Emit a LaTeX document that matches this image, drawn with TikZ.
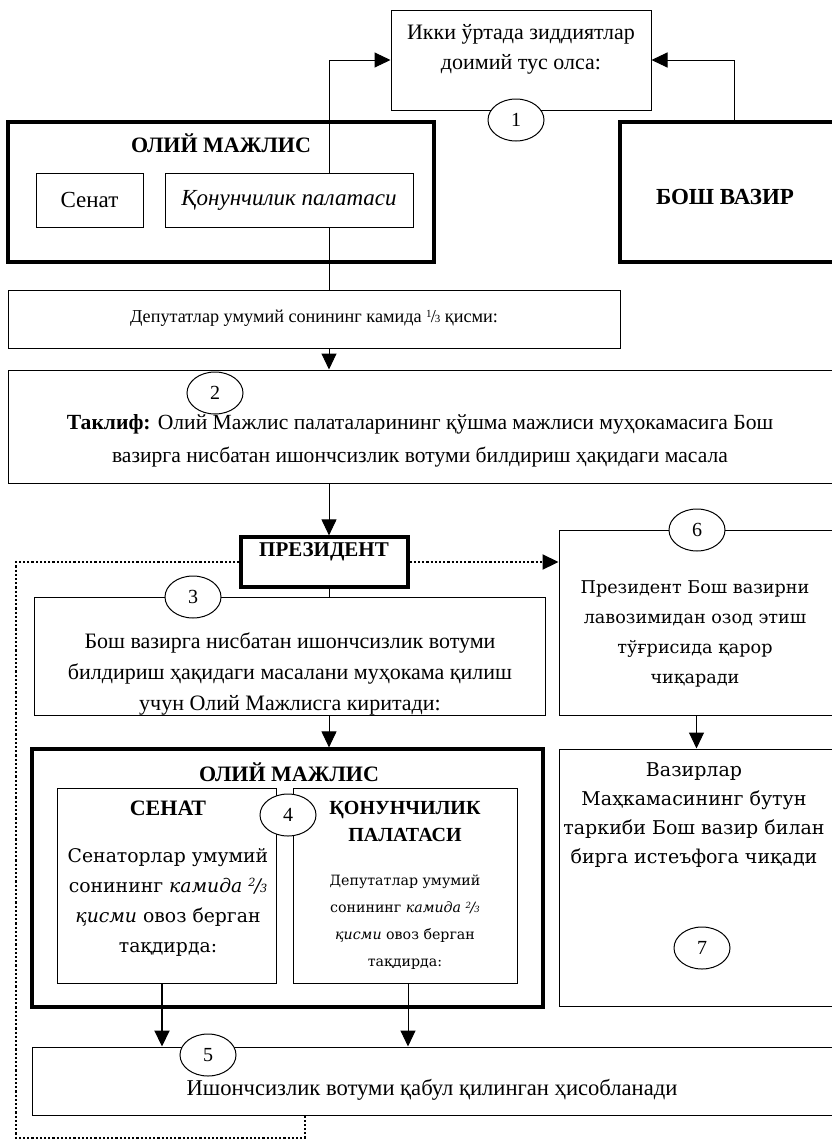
\documentclass[tikz,border=0pt]{standalone}
\usepackage{fontspec}
\usepackage{graphicx}
\setmainfont{Liberation Serif}
\newfontfamily\wideserif{DejaVu Serif}
\usetikzlibrary{arrows.meta,fit,shapes.geometric}
\newcommand{\vfrac}[2]{\raisebox{.55ex}{\scalebox{.6}{#1}}\kern-.05em/\kern-.05em\scalebox{.6}{#2}}
\begin{document}
\begin{tikzpicture}[x=0.5pt,y=-0.5pt,
  box/.style = {draw,line width=0.5pt,inner sep=0pt,fill=white},
  heavybox/.style = {draw,line width=1.6pt,inner sep=0pt},
  num/.style = {draw,ellipse,fill=white,line width=0.5pt,minimum width=28pt,minimum height=21pt,inner sep=0pt,font=\fontsize{10}{12}\selectfont},
  txt/.style = {align=center,inner sep=0pt,font=\fontsize{11}{15}\selectfont},
  heading/.style = {align=center,inner sep=0pt,font=\fontsize{11}{14}\selectfont\bfseries},
  widetxt/.style = {align=center,inner sep=0pt,font=\wideserif\fontsize{8.8}{15}\selectfont},
  arrow/.style = {line width=0.5pt,-{Triangle[length=8pt,width=7.5pt]}},
  dotarrow/.style = {line width=1.1pt,densely dotted,-{Triangle[length=8pt,width=7.5pt]}},
  dotline/.style = {line width=1.1pt,densely dotted}]
\useasboundingbox (0,0) rectangle (831,1140);
\coordinate (spine) at (329,0);
\coordinate (boshup) at (734,0);
\coordinate (senatdown) at (162,0);
\coordinate (qonundown) at (408,0);
\coordinate (loopx) at (305,0);
\coordinate (loopcorner) at (16,1138);

\node[box,fit={(391,10) (651,110)}] (clash) {};
\node[txt] (clashtxt) at (521,49) {Икки ўртада зиддиятлар\\доимий тус олса:};
\node[num] (n1) at (516,120) {1};

\node[heavybox,fit={(8,122) (434,262)}] (oliy) {};
\node[heading] (oliytitle) at (221,143) {ОЛИЙ МАЖЛИС};
\node[box,fit={(8,290) (620,348)}] (quota) {};
\node[txt,font=\fontsize{9.1}{12}\selectfont] (quotatxt) at (314,318) {Депутатлар умумий сонининг камида \vfrac{1}{3} қисми:};
\draw[arrow] (quota.north -| spine) |- (clash.west);
\node[box,fit={(36,173) (143,227)}] (senat) {};
\node[txt,font=\fontsize{11.5}{14}\selectfont] (senattxt) at (senat) {Сенат};
\node[box,fit={(165,173) (413,227)}] (qonun) {};
\node[txt,font=\fontsize{11.5}{14}\selectfont\itshape] (qonuntxt) at (qonun) {Қонунчилик палатаси};

\node[heavybox,fit={(620,122) (834,262)}] (bosh) {};
\node[heading,font=\fontsize{11.5}{14}\selectfont\bfseries] (boshtxt) at (725,197) {БОШ ВАЗИР};
\draw[arrow] (bosh.north -| boshup) |- (clash.east);

\node[box,fit={(8,370) (834,483)}] (offer) {};
\node[num] (n2) at (215,393) {2};
\node[txt,font=\fontsize{10.8}{16.5}\selectfont] (offertxt) at (420,441) {\textbf{Таклиф:} Олий Мажлис палаталарининг қўшма мажлиси муҳокамасига Бош\\вазирга нисбатан ишончсизлик вотуми билдириш ҳақидаги масала};
\draw[arrow] (quota.south -| spine) -- (offer.north -| spine);

\node[heavybox,fit={(241,537) (408,587)}] (pres) {};
\node[heading,font=\fontsize{10.5}{14}\selectfont\bfseries] (prestxt) at (324,552) {ПРЕЗИДЕНТ};
\draw[arrow] (offer.south -| spine) -- (pres.north -| spine);

\node[box,fit={(34,597) (545,715)}] (submit) {};
\node[num] (n3) at (193,597) {3};
\node[txt,font=\fontsize{11}{15.5}\selectfont] (submittxt) at (290,674) {Бош вазирга нисбатан ишончсизлик вотуми\\билдириш ҳақидаги масалани муҳокама қилиш\\учун Олий Мажлисга киритади:};
\draw (pres.south -| spine) -- (submit.north -| spine);

\node[box,fit={(559,530) (834,715)}] (dismiss) {};
\node[num] (n6) at (697,530) {6};
\node[widetxt] (dismisstxt) at (695,634) {Президент Бош вазирни\\лавозимидан озод этиш\\тўғрисида қарор\\чиқаради};
\draw[dotarrow] (pres.east) -- (pres.east -| dismiss.west);

\node[heavybox,fit={(32,749) (543,1007)}] (oliy2) {};
\node[heading] (oliy2title) at (289,772) {ОЛИЙ МАЖЛИС};
\draw[arrow] (submit.south -| spine) -- (oliy2.north -| spine);
\node[box,fit={(57,788) (276,983)}] (senat2) {};
\node[box,fit={(293,788) (517,983)}] (qonun2) {};
\node[num] (n4) at (288,815) {4};
\node[heading] (senat2title) at (168,808) {СЕНАТ};
\node[widetxt,font=\wideserif\fontsize{9.4}{15}\selectfont] (senat2txt) at (168,902) {Сенаторлар умумий\\сонининг \textit{камида \vfrac{2}{3}}\\\textit{қисми} овоз берган\\тақдирда:};
\node[heading,font=\fontsize{10}{13.5}\selectfont\bfseries] (qonun2title) at (405,821) {ҚОНУНЧИЛИК\\ПАЛАТАСИ};
\node[widetxt,font=\wideserif\fontsize{7.1}{13.5}\selectfont] (qonun2txt) at (405,922) {Депутатлар умумий\\сонининг \textit{камида \vfrac{2}{3}}\\\textit{қисми} овоз берган\\тақдирда:};

\node[box,fit={(559,749) (834,1006)}] (resign) {};
\node[widetxt,font=\wideserif\fontsize{9.5}{14.5}\selectfont] (resigntxt) at (694,815) {Вазирлар\\Маҳкамасининг бутун\\таркиби Бош вазир билан\\бирга истеъфога чиқади};
\node[num] (n7) at (702,948) {7};
\draw[arrow] (dismiss.south) -- (resign.north);

\node[box,fit={(32,1047) (834,1115)}] (result) {};
\node[num] (n5) at (208,1055) {5};
\node[txt,font=\fontsize{11.3}{14}\selectfont] (resulttxt) at (432,1090) {Ишончсизлик вотуми қабул қилинган ҳисобланади};
\draw[arrow,line width=1pt] (senat2.south -| senatdown) -- (result.north -| senatdown);
\draw[arrow] (qonun2.south -| qonundown) -- (result.north -| qonundown);
\draw[dotline] (pres.west) -| (loopcorner) -| (result.south -| loopx);
\end{tikzpicture}
\end{document}
